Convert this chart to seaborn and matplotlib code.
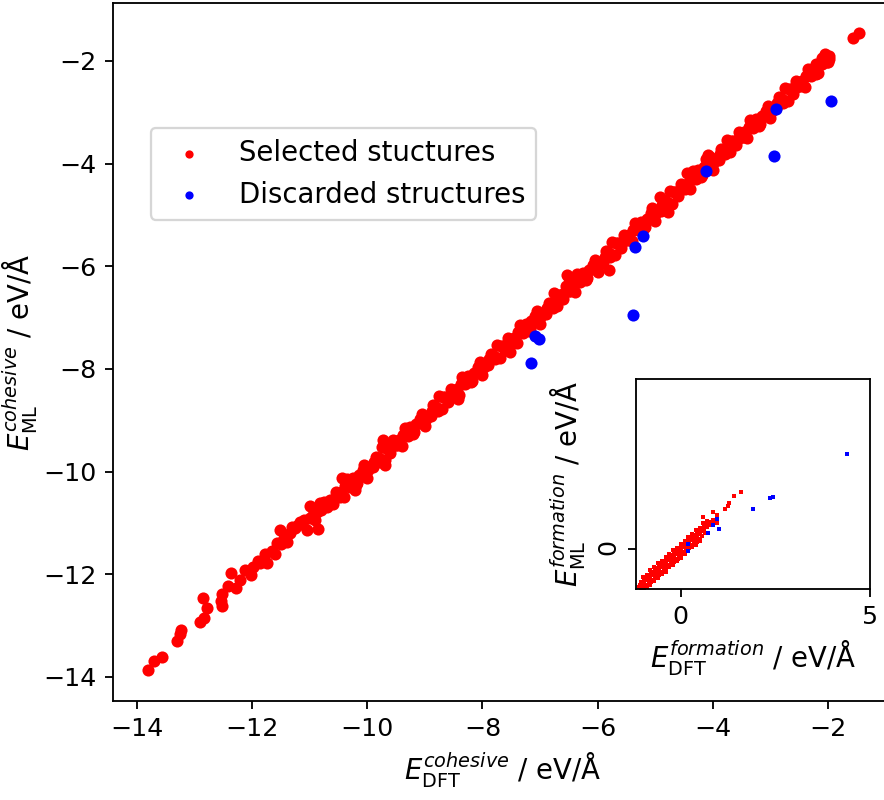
import matplotlib
matplotlib.use("Agg")
import matplotlib.pyplot as plt
import seaborn as sns
import pandas as pd

# ---------------- main panel: cohesive energies ----------------
sel_x = [
    -13.80, -13.70, -13.57, -13.31, -13.26, -13.23, -12.90, -12.83, -12.78, -12.85,
    -12.52, -12.54, -12.52, -12.42, -12.36, -12.28, -12.21, -12.12, -12.02, -11.98,
    -11.86, -11.77, -11.74, -11.60, -11.57, -11.51, -11.40, -11.31, -11.16, -11.05,
    -10.99, -10.85, -10.87, -10.70, -11.45, -11.35, -11.25, -11.10, -10.95, -10.80, -10.75,
    -11.90, -11.80, -11.65, -11.50, -11.20, -11.00, -10.90, -10.82,
    # lane 1
    -10.65, -10.55, -10.45, -10.35, -10.25, -10.15, -10.05, -9.95, -9.85, -9.75,
    -9.65, -9.55, -9.45, -9.35, -9.25, -9.15, -9.05, -8.95, -8.85, -8.75,
    -8.65, -8.55, -8.45, -8.35, -8.25, -8.15, -8.05, -7.95, -7.85, -7.75,
    -7.65, -7.55, -7.45, -7.35, -7.25, -7.15, -7.05, -6.95, -6.85, -6.75,
    -6.65, -6.55, -6.45, -6.35, -6.25, -6.15, -6.05, -5.95, -5.85, -5.75,
    -5.65, -5.55, -5.45, -5.35, -5.25, -5.15, -5.05, -4.95, -4.85, -4.75,
    -4.65, -4.55, -4.45, -4.35, -4.25, -4.15, -4.05, -3.95, -3.85, -3.75,
    -3.65, -3.55, -3.45, -3.35, -3.25, -3.15, -3.05, -2.95, -2.85, -2.75,
    -2.65, -2.55, -2.45, -2.35, -2.25, -2.15, -2.05,
    # lane 2
    -10.60, -10.50, -10.40, -10.30, -10.20, -10.10, -10.00, -9.90, -9.80, -9.70,
    -9.60, -9.50, -9.40, -9.30, -9.20, -9.10, -9.00, -8.90, -8.80, -8.70,
    -8.60, -8.50, -8.40, -8.30, -8.20, -8.10, -8.00, -7.90, -7.80, -7.70,
    -7.60, -7.50, -7.40, -7.30, -7.20, -7.10, -7.00, -6.90, -6.80, -6.70,
    -6.60, -6.50, -6.40, -6.30, -6.20, -6.10, -6.00, -5.90, -5.80, -5.70,
    -5.60, -5.50, -5.40, -5.30, -5.20, -5.10, -5.00, -4.90, -4.80, -4.70,
    -4.60, -4.50, -4.40, -4.30, -4.20, -4.10, -4.00, -3.90, -3.80, -3.70,
    -3.60, -3.50, -3.40, -3.30, -3.20, -3.10, -3.00, -2.90, -2.80, -2.70,
    -2.60, -2.50, -2.40, -2.30, -2.20, -2.10, -2.00,
    # lane 3
    -10.58, -10.48, -10.38, -10.28, -10.18, -10.08, -9.98, -9.88, -9.78, -9.68,
    -9.58, -9.48, -9.38, -9.28, -9.18, -9.08, -8.98, -8.88, -8.78, -8.68,
    -8.58, -8.48, -8.38, -8.28, -8.18, -8.08, -7.98, -7.88, -7.78, -7.68,
    -7.58, -7.48, -7.38, -7.28, -7.18, -7.08, -6.98, -6.88, -6.78, -6.68,
    -6.58, -6.48, -6.38, -6.28, -6.18, -6.08, -5.98, -5.88, -5.78, -5.68,
    -5.58, -5.48, -5.38, -5.28, -5.18, -5.08, -4.98, -4.88, -4.78, -4.68,
    -4.58, -4.48, -4.38, -4.28, -4.18, -4.08, -3.98, -3.88, -3.78, -3.68,
    -3.58, -3.48, -3.38, -3.28, -3.18, -3.08, -2.98, -2.88, -2.78, -2.68,
    -2.58, -2.48, -2.38, -2.28, -2.18, -2.08, -1.98,
    # isolated bumps
    -4.08, -4.12, -5.81, -6.53, -6.50, -7.52, -8.42, -10.21, -10.44, -9.69,
    -9.72, -4.45, -4.92, -4.77, -2.02, -1.98, -1.57, -1.47, -2.20, -2.10,
]
sel_y = [
    -13.87, -13.70, -13.61, -13.30, -13.16, -13.08, -12.93, -12.86, -12.65, -12.46,
    -12.62, -12.52, -12.38, -12.23, -11.97, -12.26, -12.12, -11.91, -12.02, -11.86,
    -11.79, -11.61, -11.79, -11.60, -11.40, -11.13, -11.37, -11.08, -10.98, -11.14,
    -10.67, -11.11, -10.78, -10.69, -11.30, -11.20, -11.10, -10.95, -10.85, -10.75, -10.60,
    -11.75, -11.72, -11.55, -11.42, -11.05, -10.90, -10.95, -10.62,
    # lane 1
    -10.55, -10.39, -10.39, -10.15, -10.13, -10.07, -9.87, -9.91, -9.71, -9.53,
    -9.55, -9.39, -9.39, -9.15, -9.13, -9.07, -8.87, -8.91, -8.71, -8.53,
    -8.55, -8.39, -8.39, -8.15, -8.13, -8.07, -7.87, -7.91, -7.71, -7.53,
    -7.55, -7.39, -7.39, -7.15, -7.13, -7.07, -6.87, -6.91, -6.71, -6.53,
    -6.55, -6.39, -6.39, -6.15, -6.13, -6.07, -5.87, -5.91, -5.71, -5.53,
    -5.55, -5.39, -5.39, -5.15, -5.13, -5.07, -4.87, -4.91, -4.71, -4.53,
    -4.55, -4.39, -4.39, -4.15, -4.13, -4.07, -3.87, -3.91, -3.71, -3.53,
    -3.55, -3.39, -3.39, -3.15, -3.13, -3.07, -2.87, -2.91, -2.71, -2.53,
    -2.55, -2.39, -2.39, -2.15, -2.13, -2.07, -1.87,
    # lane 2
    -10.64, -10.48, -10.50, -10.30, -10.26, -10.06, -10.12, -9.92, -9.74, -9.78,
    -9.64, -9.48, -9.50, -9.30, -9.26, -9.06, -9.12, -8.92, -8.74, -8.78,
    -8.64, -8.48, -8.50, -8.30, -8.26, -8.06, -8.12, -7.92, -7.74, -7.78,
    -7.64, -7.48, -7.50, -7.30, -7.26, -7.06, -7.12, -6.92, -6.74, -6.78,
    -6.64, -6.48, -6.50, -6.30, -6.26, -6.06, -6.12, -5.92, -5.74, -5.78,
    -5.64, -5.48, -5.50, -5.30, -5.26, -5.06, -5.12, -4.92, -4.74, -4.78,
    -4.64, -4.48, -4.50, -4.30, -4.26, -4.06, -4.12, -3.92, -3.74, -3.78,
    -3.64, -3.48, -3.50, -3.30, -3.26, -3.06, -3.12, -2.92, -2.74, -2.78,
    -2.64, -2.48, -2.50, -2.30, -2.26, -2.06, -2.02,
    # lane 3
    -10.53, -10.49, -10.29, -10.25, -10.23, -9.97, -9.97, -9.81, -9.81, -9.55,
    -9.53, -9.49, -9.29, -9.25, -9.23, -8.97, -8.97, -8.81, -8.81, -8.55,
    -8.53, -8.49, -8.29, -8.25, -8.23, -7.97, -7.97, -7.81, -7.81, -7.55,
    -7.53, -7.49, -7.29, -7.25, -7.23, -6.97, -6.97, -6.81, -6.81, -6.55,
    -6.53, -6.49, -6.29, -6.25, -6.23, -5.97, -5.97, -5.81, -5.81, -5.55,
    -5.53, -5.49, -5.29, -5.25, -5.23, -4.97, -4.97, -4.81, -4.81, -4.55,
    -4.53, -4.49, -4.29, -4.25, -4.23, -3.97, -3.97, -3.81, -3.81, -3.55,
    -3.53, -3.49, -3.29, -3.25, -3.23, -2.97, -2.97, -2.81, -2.81, -2.55,
    -2.53, -2.49, -2.29, -2.25, -2.23, -1.97, -1.97,
    # isolated bumps
    -3.83, -3.90, -6.07, -6.17, -6.22, -7.67, -8.58, -10.36, -10.13, -9.88,
    -9.39, -4.19, -4.65, -4.94, -2.01, -1.90, -1.56, -1.46, -2.05, -1.95,
]
dis_x = [-2.90, -2.93, -1.94, -4.12, -5.22, -5.35, -5.39, -7.09, -7.01, -7.16]
dis_y = [-2.94, -3.85, -2.77, -4.14, -5.41, -5.63, -6.95, -7.36, -7.42, -7.88]

# ---------------- inset: formation energies ----------------
sel_fx = [
    # lane C
    -1.10, -1.00, -0.90, -0.80, -0.70, -0.60, -0.50, -0.40, -0.30, -0.20,
    -0.10, 0.00, 0.10, 0.20, 0.30, 0.40, 0.50, 0.60, 0.70, 0.80,
    # lane B
    -1.05, -0.95, -0.85, -0.75, -0.65, -0.55, -0.45, -0.35, -0.25, -0.15,
    -0.05, 0.05, 0.15, 0.25, 0.35, 0.45, 0.55, 0.65, 0.75,
    # lane A
    -1.00, -0.90, -0.80, -0.70, -0.60, -0.50, -0.40, -0.30, -0.20, -0.10,
    0.00, 0.10, 0.20, 0.30, 0.40, 0.50, 0.60, 0.70,
    # lane D
    -1.05, -0.95, -0.85, -0.75, -0.65, -0.55, -0.45, -0.35, -0.25, -0.15,
    -0.05, 0.05, 0.15, 0.25, 0.35, 0.45, 0.55, 0.65,
    # lane E
    -0.90, -0.80, -0.70, -0.60, -0.50, -0.40, -0.30, -0.20, -0.10, 0.00,
    0.10, 0.20, 0.30, 0.40, 0.50,
    # lane F
    -1.08, -0.98, -0.88, -0.78, -0.68, -0.58, -0.48, -0.38, -0.28, -0.18,
    -0.08, 0.02, 0.12, 0.22, 0.32, 0.42, 0.52, 0.62, 0.72,
    # lane G
    -0.98, -0.88, -0.78, -0.68, -0.58, -0.48, -0.38, -0.28, -0.18, -0.08,
    0.02, 0.12, 0.22, 0.32, 0.42, 0.52,
    # lane H
    -0.98, -0.88, -0.78, -0.68, -0.58, -0.48, -0.38, -0.28, -0.18, -0.08,
    0.02, 0.12, 0.22, 0.32, 0.42, 0.52, 0.62,
    # upper tail
    1.60, 1.41, 1.28, 1.26, 1.17, 0.95, 0.86, 0.60, 0.97, 0.51,
    0.73, 0.62, 0.85, 0.80, 0.90,
]
sel_fy = [
    -1.02, -0.95, -0.83, -0.77, -0.66, -0.60, -0.48, -0.42, -0.30, -0.25,
    -0.13, -0.07, 0.05, 0.11, 0.22, 0.28, 0.40, 0.46, 0.58, 0.63,
    -0.87, -0.80, -0.70, -0.63, -0.52, -0.45, -0.35, -0.27, -0.17, -0.10,
    0.00, 0.08, 0.18, 0.25, 0.35, 0.43, 0.53, 0.60, 0.71,
    -0.74, -0.68, -0.56, -0.49, -0.38, -0.32, -0.21, -0.14, -0.03, 0.03,
    0.14, 0.21, 0.32, 0.38, 0.50, 0.56, 0.67, 0.73,
    -1.06, -0.99, -0.88, -0.81, -0.70, -0.63, -0.53, -0.46, -0.35, -0.28,
    -0.18, -0.11, 0.00, 0.07, 0.17, 0.24, 0.35, 0.42,
    -1.02, -0.95, -0.84, -0.77, -0.66, -0.60, -0.49, -0.42, -0.31, -0.24,
    -0.14, -0.07, 0.04, 0.11, 0.21,
    -0.95, -0.87, -0.78, -0.69, -0.60, -0.52, -0.43, -0.34, -0.25, -0.16,
    -0.08, 0.01, 0.10, 0.19, 0.28, 0.37, 0.45, 0.54, 0.63,
    -1.05, -0.96, -0.87, -0.78, -0.70, -0.61, -0.52, -0.43, -0.34, -0.26,
    -0.17, -0.08, 0.01, 0.10, 0.19, 0.27,
    -0.78, -0.69, -0.60, -0.51, -0.43, -0.34, -0.25, -0.16, -0.07, 0.02,
    0.10, 0.19, 0.28, 0.37, 0.46, 0.54, 0.63,
    1.51, 1.39, 1.20, 1.13, 1.04, 0.89, 0.96, 0.83, 0.69, 0.41,
    0.63, 0.49, 0.75, 0.68, 0.72,
]
dis_fx = [4.40, 2.44, 2.37, 1.92, 1.02, 0.95, 0.86, 0.73, 0.20, 0.20]
dis_fy = [2.49, 1.36, 1.34, 1.05, 0.51, 0.78, 0.63, 0.41, 0.12, -0.06]

labels = ["Selected stuctures", "Discarded structures"]
colors = ["red", "blue"]

DPI = 165
fig = plt.figure(figsize=(884 / DPI, 800 / DPI), dpi=DPI)
ax = fig.add_axes([0.1275, 0.12375, 0.8821, 0.8725])

df_sel = pd.DataFrame({"x": sel_x, "y": sel_y})
df_dis = pd.DataFrame({"x": dis_x, "y": dis_y})
sns.scatterplot(data=df_sel, x="x", y="y", color=colors[0], s=28, linewidth=0,
                label=labels[0], ax=ax, legend=False)
sns.scatterplot(data=df_dis, x="x", y="y", color=colors[1], s=28, linewidth=0,
                label=labels[1], ax=ax, legend=False)
ax.set_xlim(-14.42, -0.88)
ax.set_ylim(-14.47, -0.87)
ax.set_xticks([-14, -12, -10, -8, -6, -4, -2])
ax.set_yticks([-14, -12, -10, -8, -6, -4, -2])
ax.tick_params(labelsize=11)
ax.set_xlabel(r"$E_{\mathrm{DFT}}^{cohesive}$ / eV/Å", fontsize=12)
ax.set_ylabel(r"$E_{\mathrm{ML}}^{cohesive}$ / eV/Å", fontsize=12)
ax.yaxis.set_label_coords(-0.095, 0.5)
ax.legend(loc="upper left", bbox_to_anchor=(0.049, 0.821), borderaxespad=0,
          fontsize=12, markerscale=0.68)

# inset
axi = fig.add_axes([0.7195, 0.26375, 0.2647, 0.2625])
df_fsel = pd.DataFrame({"x": sel_fx, "y": sel_fy})
df_fdis = pd.DataFrame({"x": dis_fx, "y": dis_fy})
sns.scatterplot(data=df_fsel, x="x", y="y", color=colors[0], s=3, marker="s",
                linewidth=0, ax=axi, legend=False)
sns.scatterplot(data=df_fdis, x="x", y="y", color=colors[1], s=3, marker="s",
                linewidth=0, ax=axi, legend=False)
axi.set_xlim(-1.18, 5.0)
axi.set_ylim(-1.06, 4.48)
axi.set_xticks([0, 5])
axi.set_yticks([0])
axi.tick_params(axis="y", labelrotation=90)
axi.tick_params(labelsize=11)
axi.set_xlabel(r"$E_{\mathrm{DFT}}^{formation}$ / eV/Å", fontsize=12)
axi.set_ylabel(r"$E_{\mathrm{ML}}^{formation}$ / eV/Å", fontsize=12)

fig.savefig("out.png", dpi=DPI)
